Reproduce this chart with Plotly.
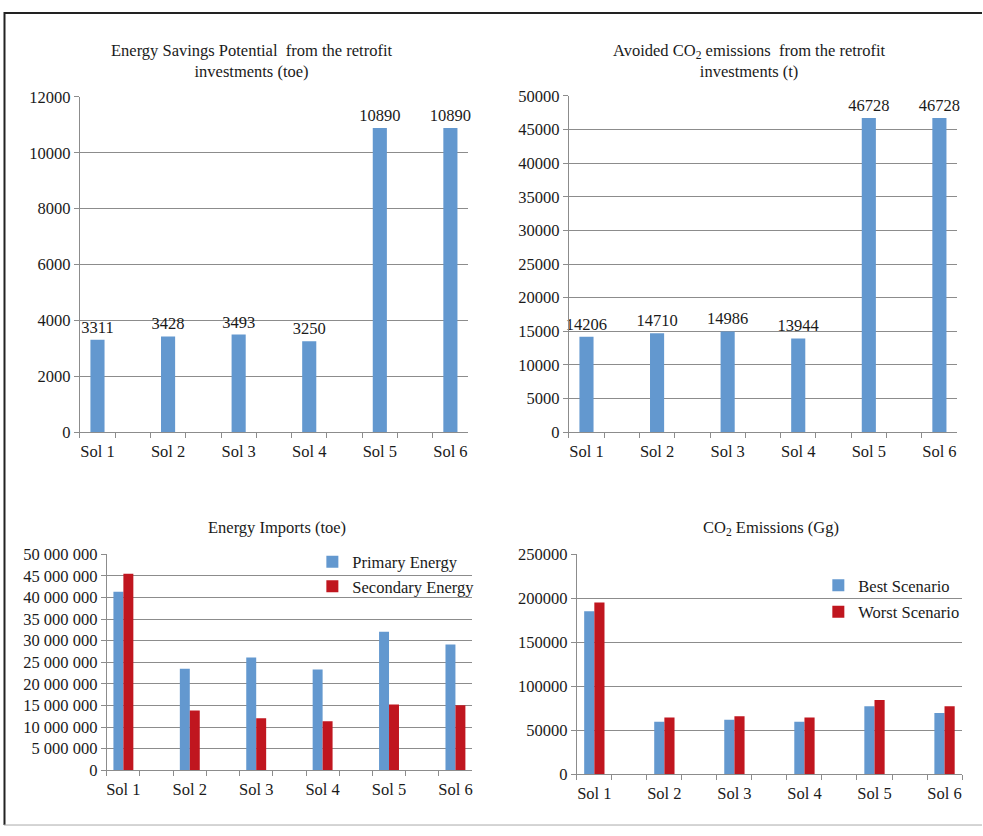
import plotly.graph_objects as go

# ---- data ----
categories = ["Sol 1", "Sol 2", "Sol 3", "Sol 4", "Sol 5", "Sol 6"]
energy_savings_toe = [3311, 3428, 3493, 3250, 10890, 10890]
avoided_co2_t = [14206, 14710, 14986, 13944, 46728, 46728]
imports_primary = [41350000, 23530000, 26090000, 23310000, 32100000, 29100000]
imports_secondary = [45490000, 13830000, 12030000, 11350000, 15260000, 15040000]
co2_best = [185200, 59600, 61900, 59600, 77400, 69600]
co2_worst = [195200, 64400, 65900, 64400, 84400, 77400]

title_tl = "Energy Savings Potential  from the retrofit<br>investments (toe)"
title_tr = "Avoided CO<sub>2</sub> emissions  from the retrofit<br>investments (t)"
title_bl = "Energy Imports (toe)"
title_br = "CO<sub>2</sub> Emissions (Gg)"

# ---- style ----
W, H = 983, 836
BLUE = "#6398CF"
RED = "#C0161F"
GRID = "#8C8C8C"
FONT = "Liberation Serif"
TXT = "#1a1a1a"
FS = 16.5

# category axis with blank slots between solutions (as in the original)
cat_order = []
for i, c in enumerate(categories):
    cat_order.append(c)
    if i < len(categories) - 1:
        cat_order.append(" " * (i + 1))


def px_x(a, b):
    return [a / W, b / W]


def px_y(top, bottom):
    return [1 - bottom / H, 1 - top / H]


fig = go.Figure()

lbl = dict(textposition="outside", constraintext="none", cliponaxis=False,
           textfont=dict(family=FONT, size=FS, color=TXT))
# top-left
fig.add_trace(go.Bar(x=categories, y=energy_savings_toe, marker=dict(color=BLUE, line=dict(width=0)),
                     text=energy_savings_toe, texttemplate="%{y:d}", width=0.4, showlegend=False,
                     xaxis="x", yaxis="y", **lbl))
# top-right
fig.add_trace(go.Bar(x=categories, y=avoided_co2_t, marker=dict(color=BLUE, line=dict(width=0)),
                     text=avoided_co2_t, texttemplate="%{y:d}", width=0.4, showlegend=False,
                     xaxis="x2", yaxis="y2", **lbl))
# bottom-left
fig.add_trace(go.Bar(x=categories, y=imports_primary, name="Primary Energy",
                     marker=dict(color=BLUE, line=dict(width=0)), offsetgroup="a",
                     width=0.3, offset=-0.3, legend="legend", xaxis="x3", yaxis="y3"))
fig.add_trace(go.Bar(x=categories, y=imports_secondary, name="Secondary Energy",
                     marker=dict(color=RED, line=dict(width=0)), offsetgroup="b",
                     width=0.3, offset=0.0, legend="legend", xaxis="x3", yaxis="y3"))
# bottom-right
fig.add_trace(go.Bar(x=categories, y=co2_best, name="Best Scenario",
                     marker=dict(color=BLUE, line=dict(width=0)), offsetgroup="a",
                     width=0.29, offset=-0.29, legend="legend2", legendgroup="b", xaxis="x4", yaxis="y4"))
fig.add_trace(go.Bar(x=categories, y=co2_worst, name="Worst Scenario",
                     marker=dict(color=RED, line=dict(width=0)), offsetgroup="b",
                     width=0.29, offset=0.0, legend="legend2", legendgroup="w", xaxis="x4", yaxis="y4"))

tickfont = dict(family=FONT, size=FS, color=TXT)


def xax(domain, anchor):
    return dict(domain=domain, anchor=anchor, type="category", categoryorder="array",
                categoryarray=cat_order, range=[-0.5, len(cat_order) - 0.5],
                tickson="boundaries", ticks="outside", ticklen=5, tickcolor=GRID,
                showline=True, linecolor=GRID, linewidth=1, showgrid=False, tickangle=0,
                ticklabelstandoff=4, tickfont=tickfont, fixedrange=True)


def yax(domain, anchor, rng, dtick, fmt):
    return dict(domain=domain, anchor=anchor, range=rng, dtick=dtick, tick0=0,
                tickformat=fmt, ticks="outside", ticklen=5, tickcolor=GRID,
                showline=True, linecolor=GRID, linewidth=1, showgrid=True,
                gridcolor=GRID, gridwidth=1, zeroline=False, tickfont=tickfont,
                fixedrange=True)


fig.update_layout(
    width=W, height=H, margin=dict(l=0, r=0, t=0, b=0, pad=0),
    paper_bgcolor="white", plot_bgcolor="white",
    separators=". ", barmode="group", bargap=0.6,
    font=dict(family=FONT, size=FS, color=TXT),
    xaxis=xax(px_x(79, 468), "y"), yaxis=yax(px_y(90, 433), "x", [0, 12000], 2000, "d"),
    xaxis2=xax(px_x(569, 958), "y2"), yaxis2=yax(px_y(89, 433), "x2", [0, 50000], 5000, "d"),
    xaxis3=xax(px_x(106, 472), "y3"), yaxis3=yax(px_y(558, 779), "x3", [0, 50000000], 5000000, ",d"),
    xaxis4=xax(px_x(577, 963), "y4"), yaxis4=yax(px_y(558, 783), "x4", [0, 250000], 50000, "d"),
    legend=dict(x=312 / W, y=1 - 548 / H, xanchor="left", yanchor="top", bgcolor="rgba(0,0,0,0)",
                font=dict(family=FONT, size=FS, color=TXT), itemwidth=30),
    legend2=dict(x=819 / W, y=1 - 572 / H, xanchor="left", yanchor="top", bgcolor="rgba(0,0,0,0)",
                 font=dict(family=FONT, size=FS, color=TXT), tracegroupgap=2, itemwidth=30),
)

ann = dict(xref="paper", yref="paper", showarrow=False, font=dict(family=FONT, size=FS, color=TXT),
           xanchor="center", yanchor="middle", align="center")
fig.add_annotation(text=title_tl, x=251 / W, y=1 - 53.5 / H, **ann)
fig.add_annotation(text=title_tr, x=750 / W, y=1 - 53.5 / H, **ann)
fig.add_annotation(text=title_bl, x=277 / W, y=1 - 531 / H, **ann)
fig.add_annotation(text=title_br, x=772 / W, y=1 - 531 / H, **ann)

# frame around the figure
fig.add_shape(type="line", xref="paper", yref="paper", x0=3.5 / W, x1=3.5 / W, y0=1 - 835 / H, y1=1 - 3 / H,
              line=dict(color="#222222", width=2))
fig.add_shape(type="line", xref="paper", yref="paper", x0=3 / W, x1=1, y0=1 - 4 / H, y1=1 - 4 / H,
              line=dict(color="#222222", width=2))
fig.add_shape(type="line", xref="paper", yref="paper", x0=3 / W, x1=1, y0=1 - 835 / H, y1=1 - 835 / H,
              line=dict(color="#AAAAAA", width=1))

pin_js = (
    "var s=document.documentElement.style;s.margin='0';s.padding='0';s.overflow='hidden';"
    "var b=document.body.style;b.margin='0';b.padding='0';b.overflow='hidden';"
    "var g=document.getElementById('{plot_id}');"
    "if(g){g.style.position='fixed';g.style.top='0px';g.style.left='0px';g.style.margin='0';}"
)
fig.write_html("out.html", config={"displayModeBar": False}, post_script=pin_js)
